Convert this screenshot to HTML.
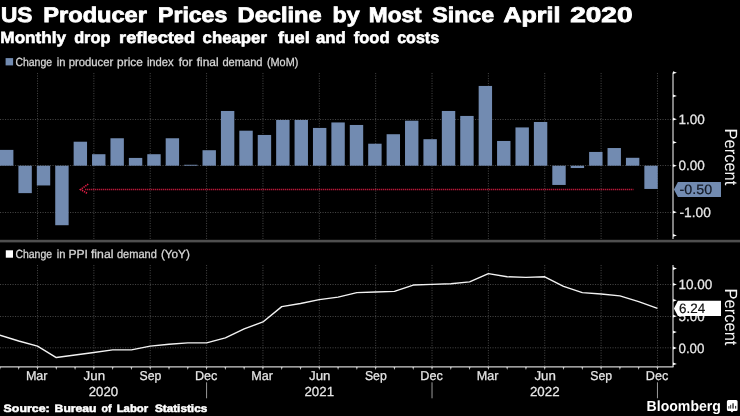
<!DOCTYPE html>
<html><head><meta charset="utf-8"><title>US Producer Prices</title>
<style>
html,body{margin:0;padding:0;background:#000;}
body{width:740px;height:416px;overflow:hidden;font-family:"Liberation Sans", sans-serif;}
svg{display:block;font-family:"Liberation Sans", sans-serif;will-change:transform;}
text{font-family:"Liberation Sans", sans-serif;white-space:pre;text-rendering:geometricPrecision;}
</style></head><body>
<svg width="740" height="416" viewBox="0 0 740 416">
<rect x="0" y="0" width="740" height="416" fill="#000"/>
<text x="1.04" y="22.00" font-size="21.2" font-weight="bold" fill="#ffffff" textLength="31.44" lengthAdjust="spacingAndGlyphs" stroke="#ffffff" stroke-width="0.8">US</text>
<text x="43.31" y="22.00" font-size="21.2" font-weight="bold" fill="#ffffff" textLength="103.65" lengthAdjust="spacingAndGlyphs" stroke="#ffffff" stroke-width="0.8">Producer</text>
<text x="158.09" y="22.00" font-size="21.2" font-weight="bold" fill="#ffffff" textLength="69.18" lengthAdjust="spacingAndGlyphs" stroke="#ffffff" stroke-width="0.8">Prices</text>
<text x="237.55" y="22.00" font-size="21.2" font-weight="bold" fill="#ffffff" textLength="84.17" lengthAdjust="spacingAndGlyphs" stroke="#ffffff" stroke-width="0.8">Decline</text>
<text x="332.64" y="22.00" font-size="21.2" font-weight="bold" fill="#ffffff" textLength="27.12" lengthAdjust="spacingAndGlyphs" stroke="#ffffff" stroke-width="0.8">by</text>
<text x="368.87" y="22.00" font-size="21.2" font-weight="bold" fill="#ffffff" textLength="52.77" lengthAdjust="spacingAndGlyphs" stroke="#ffffff" stroke-width="0.8">Most</text>
<text x="432.30" y="22.00" font-size="21.2" font-weight="bold" fill="#ffffff" textLength="61.86" lengthAdjust="spacingAndGlyphs" stroke="#ffffff" stroke-width="0.8">Since</text>
<text x="503.53" y="22.00" font-size="21.2" font-weight="bold" fill="#ffffff" textLength="56.94" lengthAdjust="spacingAndGlyphs" stroke="#ffffff" stroke-width="0.8">April</text>
<text x="570.17" y="22.00" font-size="21.2" font-weight="bold" fill="#ffffff" textLength="62.36" lengthAdjust="spacingAndGlyphs" stroke="#ffffff" stroke-width="0.8">2020</text>
<text x="0.39" y="42.70" font-size="16.1" font-weight="bold" fill="#ffffff" textLength="65.64" lengthAdjust="spacingAndGlyphs" stroke="#ffffff" stroke-width="0.6">Monthly</text>
<text x="74.15" y="42.70" font-size="16.1" font-weight="bold" fill="#ffffff" textLength="36.23" lengthAdjust="spacingAndGlyphs" stroke="#ffffff" stroke-width="0.6">drop</text>
<text x="119.11" y="42.70" font-size="16.1" font-weight="bold" fill="#ffffff" textLength="76.04" lengthAdjust="spacingAndGlyphs" stroke="#ffffff" stroke-width="0.6">reflected</text>
<text x="202.63" y="42.70" font-size="16.1" font-weight="bold" fill="#ffffff" textLength="64.29" lengthAdjust="spacingAndGlyphs" stroke="#ffffff" stroke-width="0.6">cheaper</text>
<text x="277.99" y="42.70" font-size="16.1" font-weight="bold" fill="#ffffff" textLength="31.72" lengthAdjust="spacingAndGlyphs" stroke="#ffffff" stroke-width="0.6">fuel</text>
<text x="316.05" y="42.70" font-size="16.1" font-weight="bold" fill="#ffffff" textLength="29.75" lengthAdjust="spacingAndGlyphs" stroke="#ffffff" stroke-width="0.6">and</text>
<text x="353.76" y="42.70" font-size="16.1" font-weight="bold" fill="#ffffff" textLength="35.77" lengthAdjust="spacingAndGlyphs" stroke="#ffffff" stroke-width="0.6">food</text>
<text x="397.16" y="42.70" font-size="16.1" font-weight="bold" fill="#ffffff" textLength="41.97" lengthAdjust="spacingAndGlyphs" stroke="#ffffff" stroke-width="0.6">costs</text>
<rect x="5.6" y="58.1" width="7.5" height="7.3" fill="#728bb1"/>
<text x="15.38" y="65.60" font-size="11.8" font-weight="normal" fill="#d6d6d6" textLength="36.67" lengthAdjust="spacingAndGlyphs" stroke="#d6d6d6" stroke-width="0.3">Change</text>
<text x="56.70" y="65.60" font-size="11.8" font-weight="normal" fill="#d6d6d6" textLength="8.69" lengthAdjust="spacingAndGlyphs" stroke="#d6d6d6" stroke-width="0.3">in</text>
<text x="68.72" y="65.60" font-size="11.8" font-weight="normal" fill="#d6d6d6" textLength="44.55" lengthAdjust="spacingAndGlyphs" stroke="#d6d6d6" stroke-width="0.3">producer</text>
<text x="117.13" y="65.60" font-size="11.8" font-weight="normal" fill="#d6d6d6" textLength="25.73" lengthAdjust="spacingAndGlyphs" stroke="#d6d6d6" stroke-width="0.3">price</text>
<text x="146.89" y="65.60" font-size="11.8" font-weight="normal" fill="#d6d6d6" textLength="26.86" lengthAdjust="spacingAndGlyphs" stroke="#d6d6d6" stroke-width="0.3">index</text>
<text x="178.67" y="65.60" font-size="11.8" font-weight="normal" fill="#d6d6d6" textLength="13.85" lengthAdjust="spacingAndGlyphs" stroke="#d6d6d6" stroke-width="0.3">for</text>
<text x="196.67" y="65.60" font-size="11.8" font-weight="normal" fill="#d6d6d6" textLength="21.98" lengthAdjust="spacingAndGlyphs" stroke="#d6d6d6" stroke-width="0.3">final</text>
<text x="222.43" y="65.60" font-size="11.8" font-weight="normal" fill="#d6d6d6" textLength="40.13" lengthAdjust="spacingAndGlyphs" stroke="#d6d6d6" stroke-width="0.3">demand</text>
<text x="266.97" y="65.60" font-size="11.8" font-weight="normal" fill="#d6d6d6" textLength="31.31" lengthAdjust="spacingAndGlyphs" stroke="#d6d6d6" stroke-width="0.3">(MoM)</text>
<rect x="5.8" y="250.3" width="7.2" height="7.4" fill="#ffffff"/>
<text x="15.38" y="258.30" font-size="11.8" font-weight="normal" fill="#d6d6d6" textLength="36.67" lengthAdjust="spacingAndGlyphs" stroke="#d6d6d6" stroke-width="0.3">Change</text>
<text x="56.70" y="258.30" font-size="11.8" font-weight="normal" fill="#d6d6d6" textLength="8.69" lengthAdjust="spacingAndGlyphs" stroke="#d6d6d6" stroke-width="0.3">in</text>
<text x="68.45" y="258.30" font-size="11.8" font-weight="normal" fill="#d6d6d6" textLength="19.51" lengthAdjust="spacingAndGlyphs" stroke="#d6d6d6" stroke-width="0.3">PPI</text>
<text x="90.97" y="258.30" font-size="11.8" font-weight="normal" fill="#d6d6d6" textLength="22.45" lengthAdjust="spacingAndGlyphs" stroke="#d6d6d6" stroke-width="0.3">final</text>
<text x="116.93" y="258.30" font-size="11.8" font-weight="normal" fill="#d6d6d6" textLength="39.87" lengthAdjust="spacingAndGlyphs" stroke="#d6d6d6" stroke-width="0.3">demand</text>
<text x="160.92" y="258.30" font-size="11.8" font-weight="normal" fill="#d6d6d6" textLength="28.91" lengthAdjust="spacingAndGlyphs" stroke="#d6d6d6" stroke-width="0.3">(YoY)</text>
<line x1="37.50" y1="73.0" x2="37.50" y2="239.0" stroke="#424242" stroke-width="1" stroke-dasharray="1.1 1.4"/>
<line x1="93.86" y1="73.0" x2="93.86" y2="239.0" stroke="#424242" stroke-width="1" stroke-dasharray="1.1 1.4"/>
<line x1="150.22" y1="73.0" x2="150.22" y2="239.0" stroke="#424242" stroke-width="1" stroke-dasharray="1.1 1.4"/>
<line x1="206.58" y1="73.0" x2="206.58" y2="239.0" stroke="#424242" stroke-width="1" stroke-dasharray="1.1 1.4"/>
<line x1="262.94" y1="73.0" x2="262.94" y2="239.0" stroke="#424242" stroke-width="1" stroke-dasharray="1.1 1.4"/>
<line x1="319.30" y1="73.0" x2="319.30" y2="239.0" stroke="#424242" stroke-width="1" stroke-dasharray="1.1 1.4"/>
<line x1="375.66" y1="73.0" x2="375.66" y2="239.0" stroke="#424242" stroke-width="1" stroke-dasharray="1.1 1.4"/>
<line x1="432.02" y1="73.0" x2="432.02" y2="239.0" stroke="#424242" stroke-width="1" stroke-dasharray="1.1 1.4"/>
<line x1="488.38" y1="73.0" x2="488.38" y2="239.0" stroke="#424242" stroke-width="1" stroke-dasharray="1.1 1.4"/>
<line x1="544.74" y1="73.0" x2="544.74" y2="239.0" stroke="#424242" stroke-width="1" stroke-dasharray="1.1 1.4"/>
<line x1="601.10" y1="73.0" x2="601.10" y2="239.0" stroke="#424242" stroke-width="1" stroke-dasharray="1.1 1.4"/>
<line x1="657.46" y1="73.0" x2="657.46" y2="239.0" stroke="#424242" stroke-width="1" stroke-dasharray="1.1 1.4"/>
<line x1="0" y1="119.50" x2="673.0" y2="119.50" stroke="#424242" stroke-width="1" stroke-dasharray="1.1 1.4"/>
<line x1="0" y1="165.50" x2="673.0" y2="165.50" stroke="#424242" stroke-width="1" stroke-dasharray="1.1 1.4"/>
<line x1="0" y1="212.50" x2="673.0" y2="212.50" stroke="#424242" stroke-width="1" stroke-dasharray="1.1 1.4"/>
<line x1="37.50" y1="265.0" x2="37.50" y2="366.5" stroke="#424242" stroke-width="1" stroke-dasharray="1.1 1.4"/>
<line x1="93.86" y1="265.0" x2="93.86" y2="366.5" stroke="#424242" stroke-width="1" stroke-dasharray="1.1 1.4"/>
<line x1="150.22" y1="265.0" x2="150.22" y2="366.5" stroke="#424242" stroke-width="1" stroke-dasharray="1.1 1.4"/>
<line x1="206.58" y1="265.0" x2="206.58" y2="366.5" stroke="#424242" stroke-width="1" stroke-dasharray="1.1 1.4"/>
<line x1="262.94" y1="265.0" x2="262.94" y2="366.5" stroke="#424242" stroke-width="1" stroke-dasharray="1.1 1.4"/>
<line x1="319.30" y1="265.0" x2="319.30" y2="366.5" stroke="#424242" stroke-width="1" stroke-dasharray="1.1 1.4"/>
<line x1="375.66" y1="265.0" x2="375.66" y2="366.5" stroke="#424242" stroke-width="1" stroke-dasharray="1.1 1.4"/>
<line x1="432.02" y1="265.0" x2="432.02" y2="366.5" stroke="#424242" stroke-width="1" stroke-dasharray="1.1 1.4"/>
<line x1="488.38" y1="265.0" x2="488.38" y2="366.5" stroke="#424242" stroke-width="1" stroke-dasharray="1.1 1.4"/>
<line x1="544.74" y1="265.0" x2="544.74" y2="366.5" stroke="#424242" stroke-width="1" stroke-dasharray="1.1 1.4"/>
<line x1="601.10" y1="265.0" x2="601.10" y2="366.5" stroke="#424242" stroke-width="1" stroke-dasharray="1.1 1.4"/>
<line x1="657.46" y1="265.0" x2="657.46" y2="366.5" stroke="#424242" stroke-width="1" stroke-dasharray="1.1 1.4"/>
<line x1="0" y1="284.50" x2="673.0" y2="284.50" stroke="#424242" stroke-width="1" stroke-dasharray="1.1 1.4"/>
<line x1="0" y1="316.50" x2="673.0" y2="316.50" stroke="#424242" stroke-width="1" stroke-dasharray="1.1 1.4"/>
<line x1="0" y1="347.80" x2="673.0" y2="347.80" stroke="#424242" stroke-width="1" stroke-dasharray="1.1 1.4"/>
<rect x="0.00" y="149.89" width="13.4" height="15.81" fill="#728bb1"/>
<rect x="18.41" y="165.70" width="13.4" height="27.43" fill="#728bb1"/>
<rect x="36.82" y="165.70" width="13.4" height="19.76" fill="#728bb1"/>
<rect x="55.23" y="165.70" width="13.4" height="59.52" fill="#728bb1"/>
<rect x="73.64" y="141.71" width="13.4" height="23.99" fill="#728bb1"/>
<rect x="92.05" y="154.21" width="13.4" height="11.49" fill="#728bb1"/>
<rect x="110.46" y="138.26" width="13.4" height="27.43" fill="#728bb1"/>
<rect x="128.87" y="157.93" width="13.4" height="7.77" fill="#728bb1"/>
<rect x="147.28" y="154.21" width="13.4" height="11.49" fill="#728bb1"/>
<rect x="165.69" y="138.26" width="13.4" height="27.43" fill="#728bb1"/>
<rect x="184.10" y="164.77" width="13.4" height="0.93" fill="#728bb1"/>
<rect x="202.51" y="150.22" width="13.4" height="15.48" fill="#728bb1"/>
<rect x="220.92" y="110.97" width="13.4" height="54.73" fill="#728bb1"/>
<rect x="239.33" y="130.69" width="13.4" height="35.01" fill="#728bb1"/>
<rect x="257.74" y="134.96" width="13.4" height="30.74" fill="#728bb1"/>
<rect x="276.15" y="119.94" width="13.4" height="45.76" fill="#728bb1"/>
<rect x="294.56" y="119.94" width="13.4" height="45.76" fill="#728bb1"/>
<rect x="312.97" y="127.94" width="13.4" height="37.76" fill="#728bb1"/>
<rect x="331.38" y="122.45" width="13.4" height="43.25" fill="#728bb1"/>
<rect x="349.79" y="124.97" width="13.4" height="40.73" fill="#728bb1"/>
<rect x="368.20" y="143.71" width="13.4" height="21.99" fill="#728bb1"/>
<rect x="386.61" y="134.22" width="13.4" height="31.48" fill="#728bb1"/>
<rect x="405.02" y="120.69" width="13.4" height="45.01" fill="#728bb1"/>
<rect x="423.43" y="139.19" width="13.4" height="26.50" fill="#728bb1"/>
<rect x="441.84" y="110.97" width="13.4" height="54.73" fill="#728bb1"/>
<rect x="460.25" y="115.94" width="13.4" height="49.76" fill="#728bb1"/>
<rect x="478.66" y="85.95" width="13.4" height="79.75" fill="#728bb1"/>
<rect x="497.07" y="140.96" width="13.4" height="24.74" fill="#728bb1"/>
<rect x="515.48" y="127.43" width="13.4" height="38.27" fill="#728bb1"/>
<rect x="533.89" y="121.99" width="13.4" height="43.71" fill="#728bb1"/>
<rect x="552.30" y="165.70" width="13.4" height="19.25" fill="#728bb1"/>
<rect x="570.71" y="165.70" width="13.4" height="2.33" fill="#728bb1"/>
<rect x="589.12" y="151.94" width="13.4" height="13.76" fill="#728bb1"/>
<rect x="607.53" y="148.03" width="13.4" height="17.67" fill="#728bb1"/>
<rect x="625.94" y="157.79" width="13.4" height="7.91" fill="#728bb1"/>
<rect x="644.35" y="165.70" width="13.4" height="23.25" fill="#728bb1"/>
<line x1="85.2" y1="189.5" x2="633.6" y2="189.5" stroke="#e01d45" stroke-width="1.5" stroke-dasharray="1.1 0.9"/>
<path d="M88.2 184.1 L80.6 189.5 L87.2 193.4" fill="none" stroke="#e01d45" stroke-width="1.7" stroke-dasharray="1.3 0.9"/>
<rect x="0" y="239.8" width="740" height="2.6" fill="#4f4f4f"/>
<polyline points="-0.07,335.28 18.71,341.00 37.50,346.09 56.29,357.54 75.07,355.00 93.86,352.45 112.65,349.91 131.43,349.91 150.22,346.09 169.01,344.18 187.79,342.91 206.58,342.91 225.37,337.82 244.15,328.92 262.94,321.92 281.73,306.66 300.51,303.48 319.30,299.66 338.09,297.12 356.87,292.67 375.66,292.03 394.45,291.40 413.23,285.04 432.02,284.40 450.81,283.76 469.59,281.86 488.38,273.59 507.17,276.77 525.95,277.40 544.74,276.77 563.53,286.31 582.31,292.67 601.10,293.94 619.89,295.85 638.67,301.57 657.46,308.31" fill="none" stroke="#f2f2f2" stroke-width="1.4" stroke-linejoin="round"/>
<line x1="673.0" y1="72.5" x2="673.0" y2="239.0" stroke="#ffffff" stroke-width="1"/>
<line x1="673.0" y1="265.0" x2="673.0" y2="367.0" stroke="#ffffff" stroke-width="1"/>
<path d="M673.0 71.30 L676.9 72.70 L673.0 74.10 Z" fill="#ffffff"/>
<path d="M673.0 94.55 L676.9 95.95 L673.0 97.35 Z" fill="#ffffff"/>
<path d="M673.0 117.80 L676.9 119.20 L673.0 120.60 Z" fill="#ffffff"/>
<path d="M673.0 141.05 L676.9 142.45 L673.0 143.85 Z" fill="#ffffff"/>
<path d="M673.0 164.30 L676.9 165.70 L673.0 167.10 Z" fill="#ffffff"/>
<path d="M673.0 210.80 L676.9 212.20 L673.0 213.60 Z" fill="#ffffff"/>
<path d="M673.0 234.05 L676.9 235.45 L673.0 236.85 Z" fill="#ffffff"/>
<path d="M673.0 267.10 L676.9 268.50 L673.0 269.90 Z" fill="#ffffff"/>
<path d="M673.0 283.00 L676.9 284.40 L673.0 285.80 Z" fill="#ffffff"/>
<path d="M673.0 298.90 L676.9 300.30 L673.0 301.70 Z" fill="#ffffff"/>
<path d="M673.0 314.80 L676.9 316.20 L673.0 317.60 Z" fill="#ffffff"/>
<path d="M673.0 330.70 L676.9 332.10 L673.0 333.50 Z" fill="#ffffff"/>
<path d="M673.0 346.60 L676.9 348.00 L673.0 349.40 Z" fill="#ffffff"/>
<path d="M673.0 362.50 L676.9 363.90 L673.0 365.30 Z" fill="#ffffff"/>
<line x1="0" y1="366.85" x2="673.5" y2="366.85" stroke="#d0d0d0" stroke-width="1.2"/>
<path d="M-0.97 367.0 L-0.07 369.9 L0.83 367.0 Z" fill="#d0d0d0"/>
<path d="M17.81 367.0 L18.71 369.9 L19.61 367.0 Z" fill="#d0d0d0"/>
<path d="M36.60 367.0 L37.50 369.9 L38.40 367.0 Z" fill="#d0d0d0"/>
<path d="M55.39 367.0 L56.29 369.9 L57.19 367.0 Z" fill="#d0d0d0"/>
<path d="M74.17 367.0 L75.07 369.9 L75.97 367.0 Z" fill="#d0d0d0"/>
<path d="M92.96 367.0 L93.86 369.9 L94.76 367.0 Z" fill="#d0d0d0"/>
<path d="M111.75 367.0 L112.65 369.9 L113.55 367.0 Z" fill="#d0d0d0"/>
<path d="M130.53 367.0 L131.43 369.9 L132.33 367.0 Z" fill="#d0d0d0"/>
<path d="M149.32 367.0 L150.22 369.9 L151.12 367.0 Z" fill="#d0d0d0"/>
<path d="M168.11 367.0 L169.01 369.9 L169.91 367.0 Z" fill="#d0d0d0"/>
<path d="M186.89 367.0 L187.79 369.9 L188.69 367.0 Z" fill="#d0d0d0"/>
<path d="M205.68 367.0 L206.58 369.9 L207.48 367.0 Z" fill="#d0d0d0"/>
<path d="M224.47 367.0 L225.37 369.9 L226.27 367.0 Z" fill="#d0d0d0"/>
<path d="M243.25 367.0 L244.15 369.9 L245.05 367.0 Z" fill="#d0d0d0"/>
<path d="M262.04 367.0 L262.94 369.9 L263.84 367.0 Z" fill="#d0d0d0"/>
<path d="M280.83 367.0 L281.73 369.9 L282.63 367.0 Z" fill="#d0d0d0"/>
<path d="M299.61 367.0 L300.51 369.9 L301.41 367.0 Z" fill="#d0d0d0"/>
<path d="M318.40 367.0 L319.30 369.9 L320.20 367.0 Z" fill="#d0d0d0"/>
<path d="M337.19 367.0 L338.09 369.9 L338.99 367.0 Z" fill="#d0d0d0"/>
<path d="M355.97 367.0 L356.87 369.9 L357.77 367.0 Z" fill="#d0d0d0"/>
<path d="M374.76 367.0 L375.66 369.9 L376.56 367.0 Z" fill="#d0d0d0"/>
<path d="M393.55 367.0 L394.45 369.9 L395.35 367.0 Z" fill="#d0d0d0"/>
<path d="M412.33 367.0 L413.23 369.9 L414.13 367.0 Z" fill="#d0d0d0"/>
<path d="M431.12 367.0 L432.02 369.9 L432.92 367.0 Z" fill="#d0d0d0"/>
<path d="M449.91 367.0 L450.81 369.9 L451.71 367.0 Z" fill="#d0d0d0"/>
<path d="M468.69 367.0 L469.59 369.9 L470.49 367.0 Z" fill="#d0d0d0"/>
<path d="M487.48 367.0 L488.38 369.9 L489.28 367.0 Z" fill="#d0d0d0"/>
<path d="M506.27 367.0 L507.17 369.9 L508.07 367.0 Z" fill="#d0d0d0"/>
<path d="M525.05 367.0 L525.95 369.9 L526.85 367.0 Z" fill="#d0d0d0"/>
<path d="M543.84 367.0 L544.74 369.9 L545.64 367.0 Z" fill="#d0d0d0"/>
<path d="M562.63 367.0 L563.53 369.9 L564.43 367.0 Z" fill="#d0d0d0"/>
<path d="M581.41 367.0 L582.31 369.9 L583.21 367.0 Z" fill="#d0d0d0"/>
<path d="M600.20 367.0 L601.10 369.9 L602.00 367.0 Z" fill="#d0d0d0"/>
<path d="M618.99 367.0 L619.89 369.9 L620.79 367.0 Z" fill="#d0d0d0"/>
<path d="M637.77 367.0 L638.67 369.9 L639.57 367.0 Z" fill="#d0d0d0"/>
<path d="M656.56 367.0 L657.46 369.9 L658.36 367.0 Z" fill="#d0d0d0"/>
<text x="678.41" y="123.95" font-size="13.6" fill="#e6e6e6" stroke="#e6e6e6" stroke-width="0.25" textLength="26.39" lengthAdjust="spacingAndGlyphs">1.00</text>
<text x="678.38" y="170.45" font-size="13.6" fill="#e6e6e6" stroke="#e6e6e6" stroke-width="0.25" textLength="26.32" lengthAdjust="spacingAndGlyphs">0.00</text>
<text x="679.40" y="216.95" font-size="13.6" fill="#e6e6e6" stroke="#e6e6e6" stroke-width="0.25" textLength="31.41" lengthAdjust="spacingAndGlyphs">-1.00</text>
<text x="678.41" y="289.15" font-size="13.6" fill="#e6e6e6" stroke="#e6e6e6" stroke-width="0.25" textLength="33.98" lengthAdjust="spacingAndGlyphs">10.00</text>
<text x="678.59" y="320.95" font-size="13.6" fill="#e6e6e6" stroke="#e6e6e6" stroke-width="0.25" textLength="26.11" lengthAdjust="spacingAndGlyphs">5.00</text>
<text x="678.49" y="352.75" font-size="13.6" fill="#e6e6e6" stroke="#e6e6e6" stroke-width="0.25" textLength="26.00" lengthAdjust="spacingAndGlyphs">0.00</text>
<path d="M673.9 189.45 L677.9 181.89999999999998 L721 181.89999999999998 L721 197.0 L677.9 197.0 Z" fill="#728bb1"/>
<text x="679.56" y="194.30" font-size="13.6" fill="#141a26" stroke="#141a26" stroke-width="0.2" textLength="32.61" lengthAdjust="spacingAndGlyphs">-0.50</text>
<path d="M673.9 308.4 L677.9 300.84999999999997 L721 300.84999999999997 L721 315.95 L677.9 315.95 Z" fill="#ffffff"/>
<text x="679.03" y="313.25" font-size="13.6" fill="#111111" stroke="#111111" stroke-width="0.2" textLength="26.16" lengthAdjust="spacingAndGlyphs">6.24</text>
<text transform="translate(725.1 0) rotate(90)" x="128.44" y="0" font-size="17.6" fill="#f4f4f4" textLength="56.91" lengthAdjust="spacingAndGlyphs">Percent</text>
<text transform="translate(725.1 0) rotate(90)" x="288.54" y="0" font-size="17.6" fill="#f4f4f4" textLength="56.91" lengthAdjust="spacingAndGlyphs">Percent</text>
<text x="25.88" y="379.9" font-size="12.9" fill="#e6e6e6" stroke="#e6e6e6" stroke-width="0.25" textLength="21.68" lengthAdjust="spacingAndGlyphs">Mar</text>
<text x="83.58" y="379.9" font-size="12.9" fill="#e6e6e6" stroke="#e6e6e6" stroke-width="0.25" textLength="21.46" lengthAdjust="spacingAndGlyphs">Jun</text>
<text x="139.49" y="379.9" font-size="12.9" fill="#e6e6e6" stroke="#e6e6e6" stroke-width="0.25" textLength="21.83" lengthAdjust="spacingAndGlyphs">Sep</text>
<text x="194.91" y="379.9" font-size="12.9" fill="#e6e6e6" stroke="#e6e6e6" stroke-width="0.25" textLength="22.46" lengthAdjust="spacingAndGlyphs">Dec</text>
<text x="251.32" y="379.9" font-size="12.9" fill="#e6e6e6" stroke="#e6e6e6" stroke-width="0.25" textLength="21.68" lengthAdjust="spacingAndGlyphs">Mar</text>
<text x="309.02" y="379.9" font-size="12.9" fill="#e6e6e6" stroke="#e6e6e6" stroke-width="0.25" textLength="21.46" lengthAdjust="spacingAndGlyphs">Jun</text>
<text x="364.93" y="379.9" font-size="12.9" fill="#e6e6e6" stroke="#e6e6e6" stroke-width="0.25" textLength="21.83" lengthAdjust="spacingAndGlyphs">Sep</text>
<text x="420.35" y="379.9" font-size="12.9" fill="#e6e6e6" stroke="#e6e6e6" stroke-width="0.25" textLength="22.46" lengthAdjust="spacingAndGlyphs">Dec</text>
<text x="476.76" y="379.9" font-size="12.9" fill="#e6e6e6" stroke="#e6e6e6" stroke-width="0.25" textLength="21.68" lengthAdjust="spacingAndGlyphs">Mar</text>
<text x="534.46" y="379.9" font-size="12.9" fill="#e6e6e6" stroke="#e6e6e6" stroke-width="0.25" textLength="21.46" lengthAdjust="spacingAndGlyphs">Jun</text>
<text x="590.37" y="379.9" font-size="12.9" fill="#e6e6e6" stroke="#e6e6e6" stroke-width="0.25" textLength="21.83" lengthAdjust="spacingAndGlyphs">Sep</text>
<text x="645.79" y="379.9" font-size="12.9" fill="#e6e6e6" stroke="#e6e6e6" stroke-width="0.25" textLength="22.46" lengthAdjust="spacingAndGlyphs">Dec</text>
<text x="88.66" y="395.5" font-size="13.1" fill="#e6e6e6" stroke="#e6e6e6" stroke-width="0.25" textLength="29.45" lengthAdjust="spacingAndGlyphs">2020</text>
<text x="304.46" y="395.5" font-size="13.1" fill="#e6e6e6" stroke="#e6e6e6" stroke-width="0.25" textLength="29.59" lengthAdjust="spacingAndGlyphs">2021</text>
<text x="529.95" y="395.5" font-size="13.1" fill="#e6e6e6" stroke="#e6e6e6" stroke-width="0.25" textLength="29.62" lengthAdjust="spacingAndGlyphs">2022</text>
<line x1="206.58" y1="382.3" x2="206.58" y2="398.3" stroke="#9a9a9a" stroke-width="1"/>
<line x1="432.02" y1="382.3" x2="432.02" y2="398.3" stroke="#9a9a9a" stroke-width="1"/>
<line x1="657.46" y1="382.3" x2="657.46" y2="398.3" stroke="#9a9a9a" stroke-width="1"/>
<text x="3.63" y="411.50" font-size="10.7" font-weight="bold" fill="#ffffff" textLength="46.06" lengthAdjust="spacingAndGlyphs" stroke="#ffffff" stroke-width="0.5">Source:</text>
<text x="54.63" y="411.50" font-size="10.7" font-weight="bold" fill="#ffffff" textLength="41.92" lengthAdjust="spacingAndGlyphs" stroke="#ffffff" stroke-width="0.5">Bureau</text>
<text x="101.58" y="411.50" font-size="10.7" font-weight="bold" fill="#ffffff" textLength="9.96" lengthAdjust="spacingAndGlyphs" stroke="#ffffff" stroke-width="0.5">of</text>
<text x="116.69" y="411.50" font-size="10.7" font-weight="bold" fill="#ffffff" textLength="31.46" lengthAdjust="spacingAndGlyphs" stroke="#ffffff" stroke-width="0.5">Labor</text>
<text x="154.90" y="411.50" font-size="10.7" font-weight="bold" fill="#ffffff" textLength="52.34" lengthAdjust="spacingAndGlyphs" stroke="#ffffff" stroke-width="0.5">Statistics</text>
<text x="646.6" y="411.0" font-size="14.7" font-weight="bold" fill="#ffffff" textLength="74.3" lengthAdjust="spacingAndGlyphs">Bloomberg</text>
<path d="M728.4 400.1 h7.7 a1.5 1.5 0 0 1 1.5 1.5 v7.8 a1.5 1.5 0 0 1 -1.5 1.5 h-2.7 l-1.4 1.7 l-1.4 -1.7 h-2.2 a1.5 1.5 0 0 1 -1.5 -1.5 v-7.8 a1.5 1.5 0 0 1 1.5 -1.5 z" fill="#ffffff"/>
<rect x="728.3" y="406.1" width="1.1" height="2.50" fill="#3c3c3c"/>
<rect x="730.1" y="404.8" width="1.1" height="3.80" fill="#3c3c3c"/>
<rect x="732.3" y="403.3" width="1.5" height="5.30" fill="#3c3c3c"/>
<rect x="735.0" y="405.9" width="1.2" height="2.70" fill="#3c3c3c"/>
</svg>
</body></html>
